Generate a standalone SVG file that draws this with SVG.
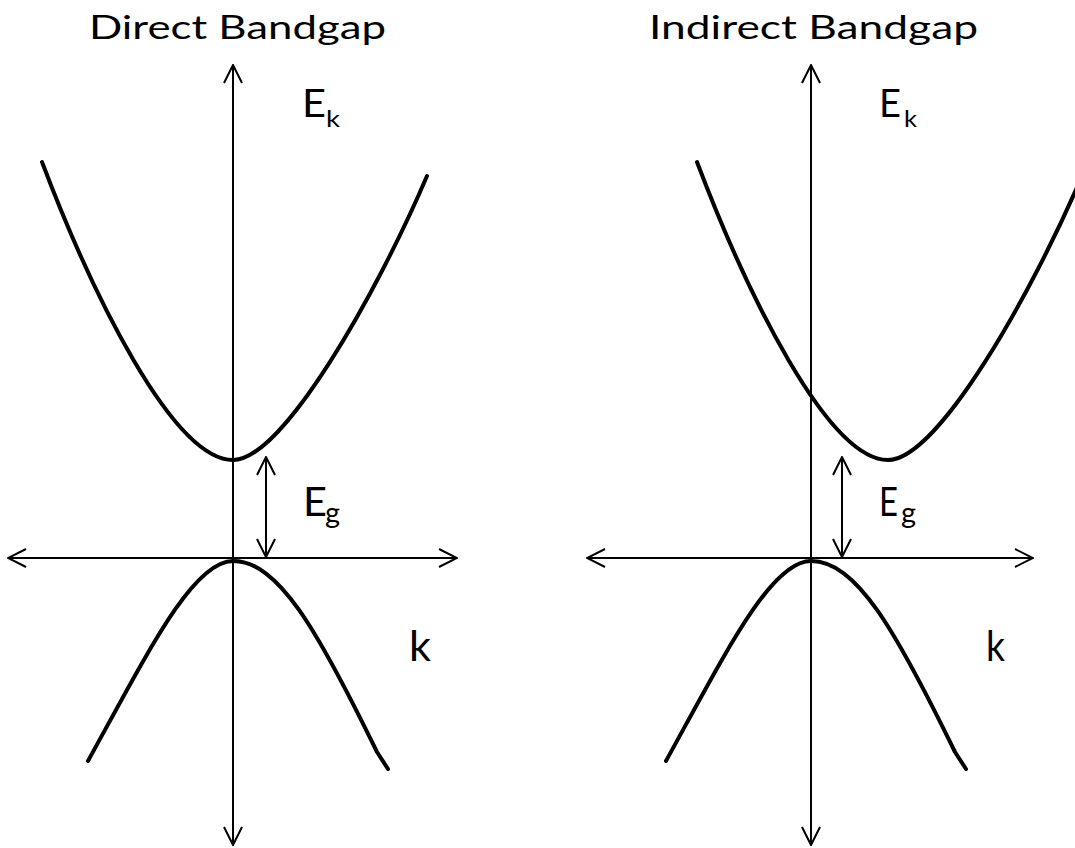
<svg xmlns="http://www.w3.org/2000/svg" width="1075" height="848" viewBox="0 0 1075 848">
<style>
.axis{stroke:#000;stroke-width:2;fill:none}
.band{stroke:#000;stroke-width:4;fill:none;stroke-linecap:round;stroke-linejoin:round}
.t{font-family:Lato,"Liberation Sans",sans-serif;fill:#000;font-weight:400}
</style>
<defs>
<marker id="ah" viewBox="0 0 20 20" refX="19" refY="10" markerWidth="20" markerHeight="20" markerUnits="userSpaceOnUse" orient="auto-start-reverse">
<path d="M1,1 L19,10 L1,19" fill="none" stroke="#000" stroke-width="2"/>
</marker>
</defs>
<rect width="1075" height="848" fill="#fff"/>
<g id="connectors">
<line class="axis" x1="233" y1="845" x2="233" y2="65" marker-start="url(#ah)" marker-end="url(#ah)"/>
<line class="axis" x1="8" y1="558" x2="457" y2="558" marker-start="url(#ah)" marker-end="url(#ah)"/>
<line class="axis" x1="266" y1="557" x2="266" y2="457" marker-start="url(#ah)" marker-end="url(#ah)"/>
<line class="axis" x1="811" y1="845" x2="811" y2="65" marker-start="url(#ah)" marker-end="url(#ah)"/>
<line class="axis" x1="587" y1="558" x2="1033" y2="558" marker-start="url(#ah)" marker-end="url(#ah)"/>
<line class="axis" x1="842" y1="557" x2="842" y2="457" marker-start="url(#ah)" marker-end="url(#ah)"/>
</g>
<g id="direct-conduction-band">
<path class="band" d="M42,162 C92,294 173,460 233,460 C283,460 377,293 427,176"/>
</g>
<g id="direct-valence-band">
<path class="band" d="M88,761 C148,652 193,561 233,561 C278,561 317,629 377,752 L388,769"/>
</g>
<g id="indirect-conduction-band">
<path class="band" d="M697,162 C747,294 828,460 888,460 C938,460 1032,293 1082,176"/>
</g>
<g id="indirect-valence-band">
<path class="band" d="M666,761 C726,652 771,561 811,561 C856,561 895,629 955,752 L966,769"/>
</g>
<g id="title-direct"><text class="t" x="89" y="39" font-size="33.5" textLength="297" lengthAdjust="spacingAndGlyphs">Direct Bandgap</text></g>
<g id="title-indirect"><text class="t" x="649" y="39" font-size="33.5" textLength="329" lengthAdjust="spacingAndGlyphs">Indirect Bandgap</text></g>
<g id="label-ek-direct">
<text class="t" x="302" y="117" font-size="38" textLength="24" lengthAdjust="spacingAndGlyphs">E</text>
<text class="t" x="326" y="127" font-size="23" textLength="14" lengthAdjust="spacingAndGlyphs">k</text>
</g>
<g id="label-ek-indirect">
<text class="t" x="879" y="117" font-size="38" textLength="22" lengthAdjust="spacingAndGlyphs">E</text>
<text class="t" x="904" y="127" font-size="23" textLength="13" lengthAdjust="spacingAndGlyphs">k</text>
</g>
<g id="label-eg-direct">
<text class="t" x="303" y="516" font-size="40" textLength="24" lengthAdjust="spacingAndGlyphs">E</text>
<text class="t" x="325" y="523" font-size="28" textLength="15" lengthAdjust="spacingAndGlyphs">g</text>
</g>
<g id="label-eg-indirect">
<text class="t" x="879" y="516" font-size="40" textLength="19" lengthAdjust="spacingAndGlyphs">E</text>
<text class="t" x="901" y="523" font-size="28" textLength="15" lengthAdjust="spacingAndGlyphs">g</text>
</g>
<g id="label-k-direct"><text class="t" x="409" y="661" font-size="43" textLength="22" lengthAdjust="spacingAndGlyphs">k</text></g>
<g id="label-k-indirect"><text class="t" x="986" y="661" font-size="43" textLength="19" lengthAdjust="spacingAndGlyphs">k</text></g>
</svg>
